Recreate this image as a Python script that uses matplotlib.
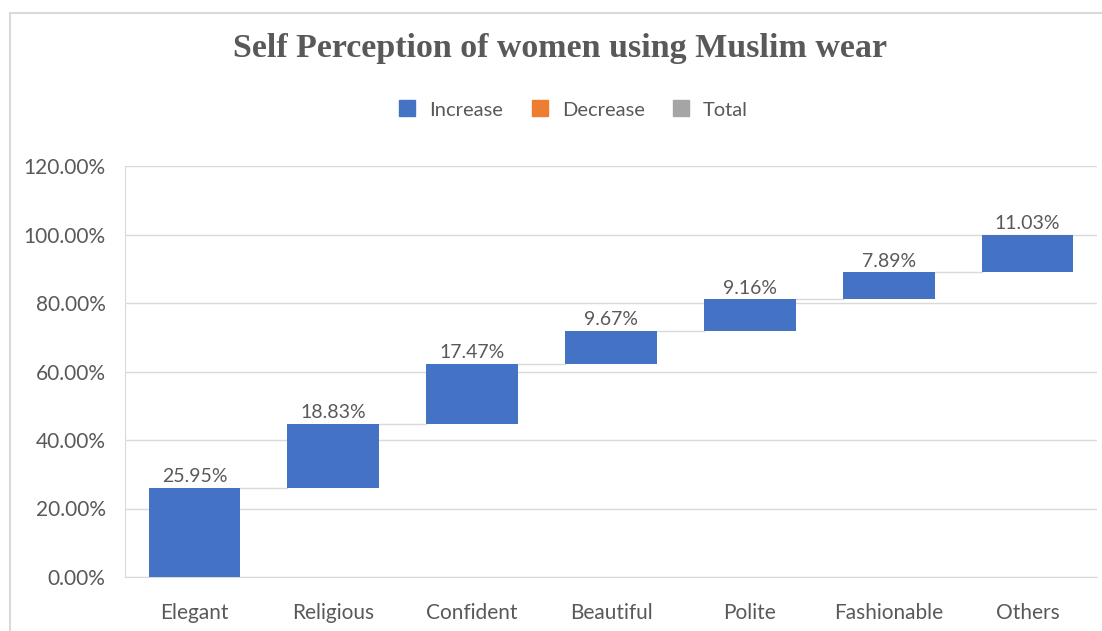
import numpy as np
import matplotlib.pyplot as plt
from matplotlib.patches import Rectangle
from matplotlib.lines import Line2D
from matplotlib.ticker import FuncFormatter

categories = ['Elegant', 'Religious', 'Confident', 'Beautiful', 'Polite', 'Fashionable', 'Others']
values = [25.95, 18.83, 17.47, 9.67, 9.16, 7.89, 11.03]
legend_labels = ['Increase', 'Decrease', 'Total']
legend_colors = ['#4472C4', '#ED7D31', '#A5A5A5']

txt = '#595959'
plt.rcParams['font.family'] = ['Lato', 'DejaVu Sans']

fig = plt.figure(figsize=(11.02, 6.31), dpi=100)
# chart frame
fig.patches.append(Rectangle((10 / 1102, -0.01), 1.02, 1 - 13 / 631 + 0.01,
                             transform=fig.transFigure, fill=False,
                             edgecolor='#D9D9D9', linewidth=1.5))

ax = fig.add_axes([125 / 1102, 1 - 577 / 631, 972 / 1102, (577 - 166) / 631])

vals = np.array(values) / 100
ends = np.cumsum(vals)
starts = ends - vals
x = np.arange(len(categories))
w = 0.66

ax.bar(x, vals, bottom=starts, width=w, color='#4472C4', zorder=3)

# connector lines
for i in range(len(x) - 1):
    ax.plot([x[i] + w / 2, x[i + 1] - w / 2], [ends[i], ends[i]],
            color='#D9D9D9', linewidth=1, zorder=2)

for xi, e, v in zip(x, ends, values):
    ax.text(xi, e + 0.008, '%.2f%%' % v, ha='center', va='bottom',
            fontsize=14, color=txt)

ax.set_xlim(-0.5, len(x) - 0.5)
ax.set_ylim(0, 1.2)
ax.set_yticks(np.arange(0, 1.21, 0.2))
ax.yaxis.set_major_formatter(FuncFormatter(lambda v, p: '%.2f%%' % (v * 100)))
ax.set_xticks(x)
ax.set_xticklabels(categories)
ax.tick_params(axis='both', length=0, labelsize=15, colors=txt)
ax.tick_params(axis='x', pad=19)
ax.tick_params(axis='y', pad=14)
ax.grid(axis='y', color='#D9D9D9', linewidth=1, zorder=0)
for s in ['top', 'right']:
    ax.spines[s].set_visible(False)
ax.spines['left'].set_color('#D9D9D9')
ax.spines['bottom'].set_color('#D9D9D9')

fig.text(0.508, 1 - 48 / 631, 'Self Perception of women using Muslim wear',
         ha='center', va='center', fontsize=24.5, fontweight='bold',
         color=txt, family='Liberation Serif')

handles = [Line2D([], [], marker='s', linestyle='none', markersize=11.5,
                  markerfacecolor=c, markeredgecolor=c) for c in legend_colors]
fig.legend(handles, legend_labels, loc='center', bbox_to_anchor=(0.515, 1 - 110 / 631),
           ncol=3, frameon=False, fontsize=14.5, labelcolor=txt,
           handletextpad=0.1, columnspacing=0.8)

fig.savefig('out.png', dpi=100)
